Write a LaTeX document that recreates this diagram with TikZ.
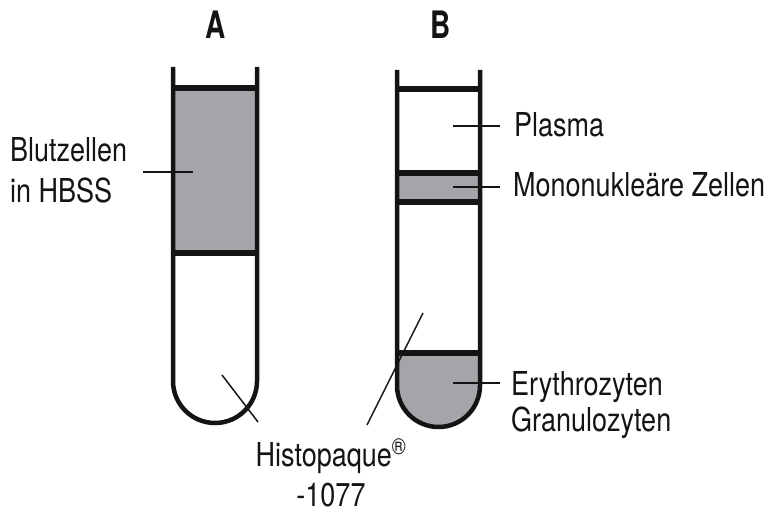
\documentclass[tikz,border=0pt]{standalone}
\usepackage{fontspec}
\setmainfont{TeX Gyre Heros}
\definecolor{ink}{HTML}{141414}
\definecolor{layer}{HTML}{A3A5A9}
\newcommand{\tall}[2][1.22]{\scalebox{1}[#1]{#2}}

\begin{document}
\begin{tikzpicture}[x=1pt, y=-1pt,
      wall/.style={draw=ink, line width=4.5pt},
      band/.style={draw=ink, line width=5.5pt},
      leader/.style={draw=ink, line width=1.5pt},
      lbl/.style={inner sep=0pt, anchor=base west, text=ink,
                  font=\fontsize{27}{33.6}\selectfont},
      head/.style={inner sep=0pt, anchor=base, text=ink,
                   font=\fontsize{28}{30}\selectfont\bfseries}]
    \useasboundingbox (0,0) rectangle (771,513);

    % tube A
    \fill[layer] (173,88) rectangle (257,253);
    \coordinate (cellsA)  at (193,172);
    \coordinate (cellsAo) at (143,172);
    \coordinate (histA)   at (222,375);
    \coordinate (histAo)  at (258,422);
    \draw[leader] (cellsAo) -- (cellsA);
    \draw[leader] (histA) -- (histAo);
    \draw[band] (173,88) -- (257,88);
    \draw[band] (173,253) -- (257,253);
    \draw[wall] (173,67) -- (173,381) arc[start angle=180, end angle=360, radius=42pt] -- (257,67);

    % tube B
    \fill[layer] (397,173) rectangle (480,202);
    \fill[layer] (397,353) -- (397,385.5) arc[start angle=180, end angle=360, radius=41.5pt] -- (480,353) -- cycle;
    \coordinate (plasB)  at (453,126);
    \coordinate (plasBo) at (500,126);
    \coordinate (monoB)  at (453,187);
    \coordinate (monoBo) at (500,187);
    \coordinate (eryB)   at (453,383);
    \coordinate (eryBo)  at (500,383);
    \coordinate (histB)  at (423,313);
    \coordinate (histBo) at (367,425);
    \draw[leader] (plasB) -- (plasBo);
    \draw[leader] (monoB) -- (monoBo);
    \draw[leader] (eryB) -- (eryBo);
    \draw[leader] (histB) -- (histBo);
    \draw[band] (397,89) -- (480,89);
    \draw[band] (397,173) -- (480,173);
    \draw[band] (397,202) -- (480,202);
    \draw[band] (397,353) -- (480,353);
    \draw[wall] (397,70) -- (397,385.5) arc[start angle=180, end angle=360, radius=41.5pt] -- (480,70);

    % labels
    \node[head] (headA) at (216,39) {\tall[1.35]{A}};
    \node[head] (headB) at (441,39) {\tall[1.35]{B}};
    \node[lbl] (cells) at (10,162) {\tall{\begin{tabular}[t]{@{}l@{}}Blutzellen\\in HBSS\end{tabular}}};
    \node[lbl] (plasma) at (514,137) {\tall{Plasma}};
    \node[lbl] (mono) at (513,197) {\tall{Mononukleäre Zellen}};
    \node[lbl, font=\fontsize{27}{30.3}\selectfont] (ery) at (511,395)
      {\tall{\begin{tabular}[t]{@{}l@{}}Erythrozyten\\Granulozyten\end{tabular}}};
    \node[lbl, anchor=base] (histo) at (331,466)
      {\tall{\begin{tabular}[t]{@{}c@{}}Histopaque\textsuperscript{\textregistered}\\-1077\end{tabular}}};
\end{tikzpicture}
\end{document}
